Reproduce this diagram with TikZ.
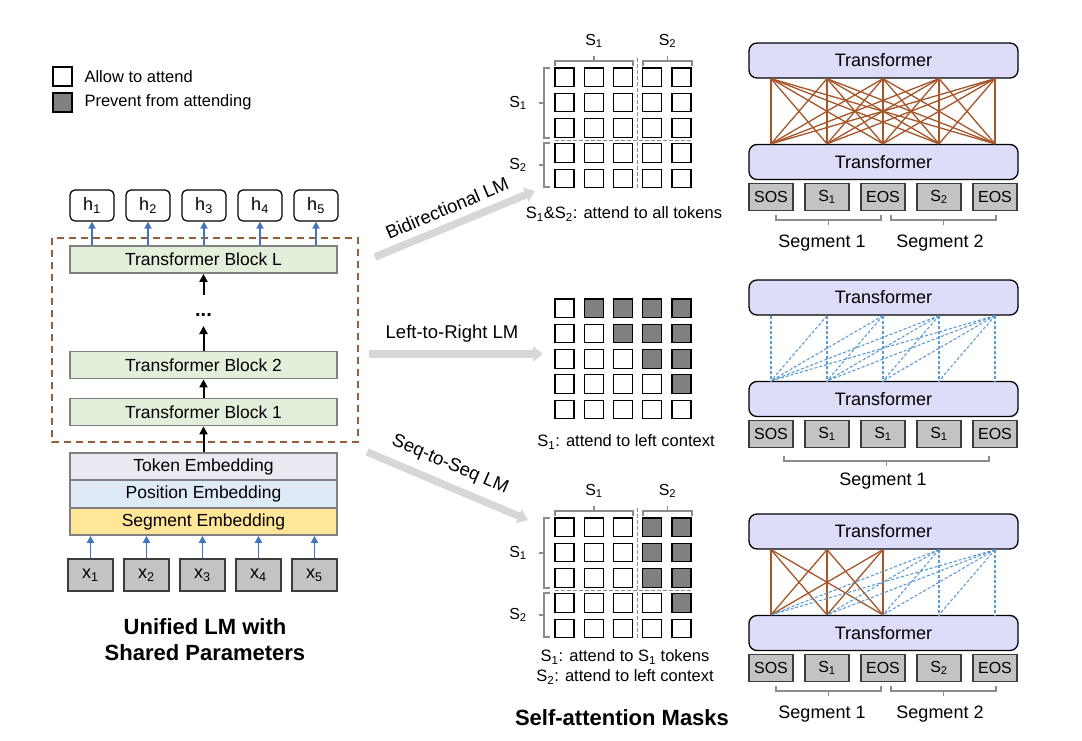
\documentclass[tikz,border=0pt]{standalone}
\usepackage{fontspec}
\setmainfont{Liberation Sans}
\usetikzlibrary{arrows.meta,calc}

\definecolor{blockgreen}{RGB}{226,239,218}
\definecolor{tokenfill}{RGB}{235,233,242}
\definecolor{posfill}{RGB}{222,235,247}
\definecolor{segfill}{RGB}{255,230,153}
\definecolor{framegray}{RGB}{128,128,128}
\definecolor{arrblue}{RGB}{68,114,196}
\definecolor{framebrown}{RGB}{150,95,60}
\definecolor{cellgray}{RGB}{128,128,128}
\definecolor{brkgray}{RGB}{140,140,140}
\definecolor{fatgray}{RGB}{215,215,215}
\definecolor{trfill}{RGB}{221,221,250}
\definecolor{tokgray}{RGB}{195,195,195}
\definecolor{tokborder}{RGB}{60,60,60}
\definecolor{attbrown}{RGB}{165,85,40}
\definecolor{attblue}{RGB}{91,155,213}

\begin{document}
\begin{tikzpicture}[x=1pt, y=-1pt,
    font=\fontsize{18}{21}\selectfont,
    blk/.style={draw=framegray, line width=1.8pt, fill=blockgreen, minimum width=267pt, minimum height=27pt, inner sep=0pt, font=\fontsize{17.5}{20}\selectfont},
    emb/.style={blk, fill=#1},
    hbox/.style={draw, rounded corners=5pt, line width=1.2pt, fill=white, minimum width=44pt, minimum height=31pt, inner sep=0pt},
    xbox/.style={draw=tokborder, line width=1.4pt, fill=tokgray, minimum width=45pt, minimum height=32pt, inner sep=0pt},
    upar/.style={-{Triangle[length=7pt,width=7pt]}, line width=1.8pt, color=arrblue},
    blkar/.style={-{Triangle[length=8pt,width=8pt]}, line width=2pt},
    legbox/.style={draw, line width=1.1pt, minimum width=19pt, minimum height=19pt, inner sep=0pt},
    legtext/.style={anchor=west, font=\fontsize{16.5}{19}\selectfont},
    cell/.style={draw, line width=1.1pt, minimum width=19pt, minimum height=18.5pt, inner sep=0pt},
    brk/.style={draw=brkgray, line width=1.2pt},
    maskdiv/.style={draw=brkgray, line width=1pt, dash pattern=on 4pt off 2pt},
    masklab/.style={font=\fontsize{16}{19}\selectfont},
    caption/.style={align=center, font=\fontsize{16.5}{19.5}\selectfont},
    fat/.style={-{Triangle[length=10pt,width=15pt]}, line width=7.5pt, color=fatgray},
    fatlab/.style={font=\fontsize{18.5}{21}\selectfont},
    trf/.style={draw, rounded corners=8pt, line width=1.3pt, fill=trfill, minimum width=269pt, minimum height=35pt, inner sep=0pt},
    tok/.style={draw=tokborder, line width=1.3pt, fill=tokgray, minimum width=44pt, minimum height=27pt, inner sep=0pt, font=\fontsize{16}{18}\selectfont},
    bidi/.style={line width=1.3pt, color=attbrown},
    ltr/.style={line width=1.1pt, color=attblue, dash pattern=on 3pt off 2pt},
    title/.style={align=center, font=\fontsize{22}{26}\selectfont\bfseries}
]
\useasboundingbox (0,0) rectangle (1082,741);

\node[legbox, fill=white] (allow) at (62.5,76.5) {};
\node[legtext] (allowtxt) at (81,76.5) {Allow to attend};
\node[legbox, fill=cellgray] (prevent) at (62.5,102.5) {};
\node[legtext] (preventtxt) at (81,102.5) {Prevent from attending};

\draw[framebrown, line width=1.6pt, dash pattern=on 7pt off 5pt] (52,238) rectangle (358,442);

\node[blk] (blkL) at (203.5,259.5) {Transformer Block L};
\node[inner sep=0pt, font=\fontsize{20}{22}\selectfont\bfseries] (dots) at (203.5,315) {...};
\coordinate (dotstop) at (203.5,295);
\coordinate (dotsbot) at (203.5,326);
\node[blk] (blk2) at (203.5,365) {Transformer Block 2};
\node[blk] (blk1) at (203.5,412) {Transformer Block 1};
\node[emb=tokenfill] (tokemb) at (203.5,466.5) {Token Embedding};
\node[emb=posfill] (posemb) at (203.5,494) {Position Embedding};
\node[emb=segfill] (segemb) at (203.5,521.5) {Segment Embedding};

\draw[blkar] (tokemb.north) -- (blk1.south);
\draw[blkar] (blk1.north) -- (blk2.south);
\draw[blkar] (blk2.north) -- (dotsbot);
\draw[blkar] (dotstop) -- (blkL.south);

\foreach \i in {1,...,5}{
  \node[hbox] (h\i) at ({92+56*(\i-1)},205.5) {h\textsubscript{\i}};
  \node[xbox] (x\i) at ({90.5+56*(\i-1)},575) {x\textsubscript{\i}};
  \draw[upar] (blkL.north -| h\i) -- (h\i.south);
  \draw[upar] (x\i.north) -- (segemb.south -| x\i);
}

\node[title] (lmtitle) at (205,640) {Unified LM with\\Shared Parameters};

\foreach \r in {1,...,5}{
  \foreach \c in {1,...,5}{
    \node[cell, fill=white] (ma-\r-\c) at ({564.5+29.25*(\c-1)},{77.25+25.3*(\r-1)}) {};
    \ifnum\c>\r \def\cellfill{cellgray}\else\def\cellfill{white}\fi
    \node[cell, fill=\cellfill] (mb-\r-\c) at ({564.5+29.25*(\c-1)},{308.25+25.3*(\r-1)}) {};
    \ifnum\c>3 \ifnum\c>\r \def\cellfill{cellgray}\else\def\cellfill{white}\fi\else\def\cellfill{white}\fi
    \node[cell, fill=\cellfill] (mc-\r-\c) at ({564.5+29.25*(\c-1)},{527.25+25.3*(\r-1)}) {};
  }
}

\foreach \m/\b in {ma/0, mc/450}{
  \draw[maskdiv] (637.5,\b+58) -- (637.5,\b+189);
  \draw[maskdiv] (555,\b+140.5) -- (692,\b+140.5);
  \draw[brk] (555,\b+66) -- (555,\b+61) -- (633,\b+61) -- (633,\b+66) (594,\b+61) -- (594,\b+56);
  \draw[brk] (643,\b+66) -- (643,\b+61) -- (692,\b+61) -- (692,\b+66) (667.5,\b+61) -- (667.5,\b+56);
  \draw[brk] (550,\b+68) -- (544,\b+68) -- (544,\b+138) -- (550,\b+138) (544,\b+103) -- (539,\b+103);
  \draw[brk] (550,\b+143) -- (544,\b+143) -- (544,\b+187) -- (550,\b+187) (544,\b+165) -- (539,\b+165);
  \node[masklab] (\m-top1) at (594,\b+41) {S\textsubscript{1}};
  \node[masklab] (\m-top2) at (667.5,\b+41) {S\textsubscript{2}};
  \node[masklab] (\m-side1) at (518,\b+103) {S\textsubscript{1}};
  \node[masklab] (\m-side2) at (518,\b+165) {S\textsubscript{2}};
}

\node[caption] (capa) at (624,214) {S\textsubscript{1}\&S\textsubscript{2}: attend to all tokens};
\node[caption] (capb) at (626,442) {S\textsubscript{1}: attend to left context};
\node[caption] (capc) at (625,667) {S\textsubscript{1}: attend to S\textsubscript{1} tokens\\S\textsubscript{2}: attend to left context};
\node[title] (masktitle) at (622,718) {Self-attention Masks};

\coordinate (bi-a) at (375,257);
\coordinate (bi-b) at (535,191);
\coordinate (lr-a) at (369,354);
\coordinate (lr-b) at (543,354);
\coordinate (ss-a) at (367,452);
\coordinate (ss-b) at (528,520);
\draw[fat] (bi-a) -- (bi-b);
\draw[fat] (lr-a) -- (lr-b);
\draw[fat] (ss-a) -- (ss-b);
\node[fatlab, rotate=23] (bi-lab) at (447,208) {Bidirectional LM};
\node[fatlab] (lr-lab) at (452,334) {Left-to-Right LM};
\node[fatlab, rotate=-23] (ss-lab) at (450,465) {Seq-to-Seq LM};

\foreach \p/\b in {a/43, b/280, c/514}{
  \node[trf] (\p-up) at (883.5,\b+17.5) {Transformer};
  \node[trf] (\p-dn) at (883.5,\b+119) {Transformer};
}
\foreach \p/\b in {a/43, c/514}{
  \foreach \i/\t in {1/SOS, 2/S\textsubscript{1}, 3/EOS, 4/S\textsubscript{2}, 5/EOS}
    \node[tok] (\p-t\i) at ({771+56*(\i-1)},\b+154) {\t};
  \draw[brk] (776,\b+172) -- (776,\b+177) -- (881,\b+177) -- (881,\b+172) (828.5,\b+177) -- (828.5,\b+182);
  \draw[brk] (891,\b+172) -- (891,\b+177) -- (996,\b+177) -- (996,\b+172) (943.5,\b+177) -- (943.5,\b+182);
  \node (\p-seg1) at (822,\b+200) {Segment 1};
  \node (\p-seg2) at (940,\b+200) {Segment 2};
}
\foreach \i/\t in {1/SOS, 2/S\textsubscript{1}, 3/S\textsubscript{1}, 4/S\textsubscript{1}, 5/EOS}
  \node[tok] (b-t\i) at ({771+56*(\i-1)},434) {\t};
\draw[brk] (784,456) -- (784,461) -- (989,461) -- (989,456) (886.5,461) -- (886.5,466);
\node (b-seg1) at (883,481) {Segment 1};

\foreach \j in {1,...,5}
  \foreach \i in {1,...,5}
    \draw[bidi] (a-up.south -| a-t\j) -- (a-dn.north -| a-t\i);
\foreach \j in {1,...,5}
  \foreach \i in {1,...,\j}
    \draw[ltr] (b-up.south -| b-t\j) -- (b-dn.north -| b-t\i);
\foreach \j in {1,2,3}
  \foreach \i in {1,2,3}
    \draw[bidi] (c-up.south -| c-t\j) -- (c-dn.north -| c-t\i);
\foreach \j in {4,5}
  \foreach \i in {1,...,\j}
    \draw[ltr] (c-up.south -| c-t\j) -- (c-dn.north -| c-t\i);

\end{tikzpicture}
\end{document}
